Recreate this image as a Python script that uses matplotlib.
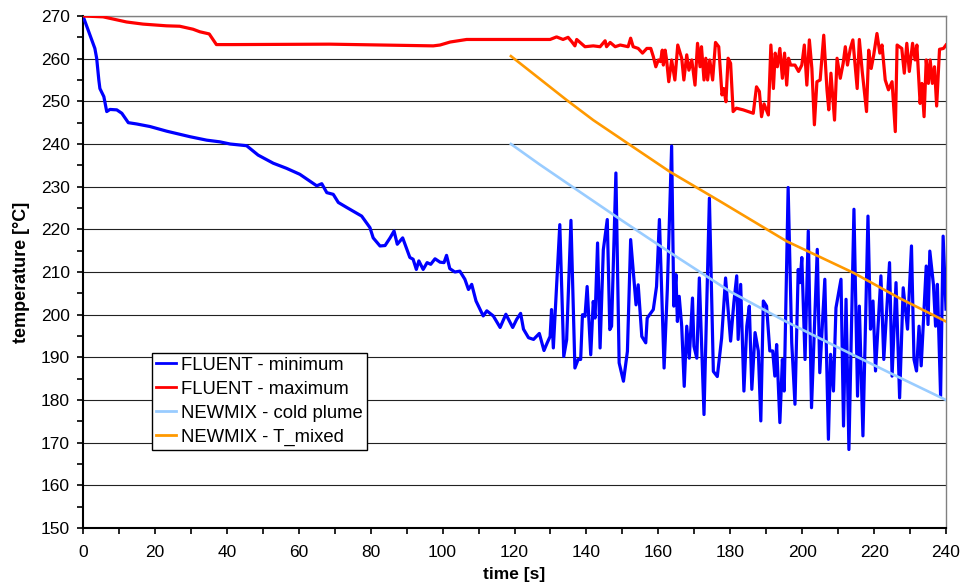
import matplotlib
matplotlib.use("Agg")
import matplotlib.pyplot as plt
from matplotlib.ticker import MultipleLocator

plt.rcParams['font.family'] = ['Liberation Sans', 'DejaVu Sans']

# FLUENT - minimum
t_min = [0, 3.3, 3.8, 4.4, 4.7, 5.8, 6.6, 7.5, 9.4, 10.8, 12.6, 14.9, 18.6, 23.3, 29.8, 34.4,
         38.1, 40.9, 45.5, 48.7, 52.9, 56.6, 60.3, 62.2, 65.0, 66.4, 67.8, 69.6, 71.0, 73.4,
         77.5, 79.8, 80.7, 82.6, 84.0, 85.4, 86.5, 87.4, 88.9, 90.9, 91.8, 92.7, 93.4, 94.6,
         95.7, 96.7, 97.9, 99.3, 100.4, 101.1, 102.0, 103.4, 104.8, 106.2, 107.2, 108.1, 109.3,
         111.3, 112.3, 114.1, 116.0, 117.6, 119.5, 120.6, 121.7, 122.5, 123.9, 125.3, 126.9,
         128.2, 129.1, 129.9, 130.3, 130.8, 131.5, 132.6, 133.7, 134.5, 135.7, 136.8, 137.7,
         138.4, 138.9, 139.6, 140.2, 141.2, 141.9, 142.4, 143.1, 143.8, 144.7, 145.8, 146.5,
         147.0, 148.2, 149.1, 150.3, 151.4, 152.3, 153.8, 154.4, 155.4, 156.5, 156.9, 158.6,
         159.5, 160.3, 161.6, 162.5, 163.7, 164.3, 164.9, 165.3, 165.8, 166.5, 167.2, 167.9,
         168.6, 169.5, 169.9, 170.7, 171.4, 172.7, 174.2, 175.3, 176.4, 177.6, 178.7, 180.1,
         181.0, 181.8, 182.2, 182.9, 183.8, 184.6, 185.3, 186.0, 186.9, 187.8, 188.5, 189.2,
         190.1, 191.0, 191.8, 192.4, 192.9, 193.8, 194.5, 195.0, 196.1, 197.1, 198.0, 198.9,
         199.4, 199.9, 200.8, 201.7, 202.6, 204.2, 204.9, 206.3, 207.3, 207.9, 208.7, 209.4,
         210.8, 211.5, 212.2, 213.0, 214.4, 215.4, 215.9, 216.9, 218.3, 219.0, 219.7, 220.4,
         221.9, 222.7, 224.3, 225.0, 226.1, 227.1, 228.1, 229.3, 230.4, 231.1, 231.8, 232.5,
         233.1, 234.5, 235.0, 235.5, 236.5, 237.1, 237.6, 238.5, 239.2, 240.0]
T_min = [270, 262.4, 260.1, 255, 253, 251.1, 247.6, 248.1, 248, 247.2, 245, 244.7, 244.1, 243.0,
         241.7, 240.9, 240.5, 240.0, 239.6, 237.4, 235.5, 234.3, 232.9, 231.8, 230.2, 230.7,
         228.6, 228.2, 226.3, 225.1, 223.1, 220.4, 218.0, 216.1, 216.2, 218.0, 219.6, 216.5,
         218.0, 213.4, 213.0, 210.6, 212.6, 210.6, 212.2, 211.8, 213.1, 212.3, 212.2, 213.9,
         210.8, 210.0, 210.2, 208.3, 205.9, 207.1, 203.2, 199.7, 200.9, 199.7, 197.0, 200.1,
         197.0, 198.9, 200.3, 196.6, 194.6, 194.2, 195.6, 191.6, 193.4, 194.9, 201.2, 192.2,
         203.5, 221.1, 190.2, 194.1, 222.1, 187.5, 189.5, 189.5, 200.0, 199.6, 206.6, 190.6,
         203.1, 199.2, 216.8, 192.2, 215.2, 222.3, 196.5, 197.3, 233.2, 188.7, 184.4, 191.4,
         217.6, 202.3, 207.0, 194.9, 193.4, 199.2, 201.2, 206.6, 222.3, 187.5, 205.9, 239.5,
         202.0, 209.4, 198.4, 204.3, 197.3, 183.2, 197.3, 189.8, 203.9, 192.6, 189.8, 208.6,
         176.6, 227.3, 186.7, 185.5, 194.5, 208.6, 193.8, 202.8, 209.1, 194.2, 207.1, 182.1,
         197.3, 202.0, 182.5, 195.8, 191.5, 175.1, 203.2, 202.0, 191.5, 191.5, 185.6, 193.0,
         174.7, 189.5, 182.1, 229.8, 193.4, 179.0, 210.6, 207.5, 213.4, 189.5, 219.6, 178.2,
         215.3, 186.4, 208.3, 170.8, 190.7, 182.1, 201.6, 208.3, 173.9, 203.6, 168.4, 224.7,
         180.9, 202.0, 171.6, 223.1, 196.6, 203.2, 186.8, 209.1, 189.5, 212.2, 185.6, 207.5,
         180.5, 206.3, 196.6, 216.1, 189.5, 186.8, 197.3, 188.0, 211.4, 197.7, 214.9, 207.1,
         197.3, 207.1, 180.9, 218.4, 201.3]

# FLUENT - maximum
t_max = [0, 5.6, 8.8, 12.1, 16.7, 23.2, 26.9, 30.6, 32.5, 35.1, 37.1, 41.7, 68.6, 97.4, 99.3,
         102.1, 106.7, 129.9, 131.7, 133.5, 134.9, 135.9, 136.8, 137.3, 139.6, 141.9, 143.8,
         145.2, 145.6, 146.6, 148.0, 149.4, 151.6, 152.3, 153.0, 154.4, 155.6, 156.8, 157.9,
         158.6, 159.3, 160.0, 160.6, 161.1, 161.4, 161.9, 162.3, 162.9, 163.7, 164.6, 165.4,
         166.5, 167.1, 167.9, 168.5, 169.3, 170.2, 170.9, 171.6, 172.0, 172.7, 173.2, 173.7,
         174.3, 175.1, 175.9, 176.8, 177.7, 178.2, 178.8, 179.4, 180.1, 180.8, 181.7, 183.6,
         186.4, 187.3, 188.1, 188.7, 189.4, 190.6, 191.3, 192.0, 192.5, 193.1, 193.8, 194.5,
         195.1, 195.7, 196.2, 196.8, 198.0, 199.0, 199.9, 200.6, 201.3, 202.0, 202.7, 203.4,
         204.1, 205.0, 206.0, 206.9, 207.4, 208.0, 209.0, 209.7, 210.6, 211.4, 212.0, 212.6,
         213.4, 214.1, 215.3, 215.9, 216.7, 217.9, 218.5, 219.2, 219.9, 220.8, 221.6, 222.2,
         223.1, 224.0, 225.0, 225.9, 226.4, 227.7, 228.4, 229.1, 229.8, 230.7, 231.4, 231.9,
         232.8, 233.3, 233.9, 234.5, 235.1, 235.6, 236.2, 236.8, 237.4, 238.2, 239.3, 240.0]
T_max = [270, 269.8, 269.2, 268.6, 268.1, 267.7, 267.6, 266.9, 266.3, 265.8, 263.3, 263.3, 263.4,
         263.0, 263.2, 263.9, 264.5, 264.5, 265.1, 264.5, 265.0, 264.0, 263.0, 264.5, 262.8,
         263.0, 262.8, 264.2, 262.8, 263.8, 262.8, 263.2, 262.8, 264.8, 262.8, 262.4, 261.3,
         262.4, 262.4, 260.5, 258.1, 259.7, 259.3, 262.0, 258.5, 262.0, 259.7, 254.6, 259.7,
         255.0, 263.2, 260.1, 255.0, 260.9, 257.3, 259.7, 253.8, 263.6, 258.1, 262.8, 255.0,
         260.1, 255.0, 259.7, 255.0, 263.8, 262.8, 251.5, 253.0, 249.9, 260.1, 258.9, 247.6,
         248.4, 248.0, 247.2, 253.4, 252.3, 246.4, 249.4, 246.8, 263.2, 253.0, 261.3, 258.1,
         262.4, 255.4, 261.3, 253.8, 260.1, 258.5, 258.5, 257.0, 258.5, 263.2, 253.8, 264.4,
         257.7, 244.5, 254.6, 255.0, 265.5, 252.7, 248.0, 256.6, 245.6, 260.1, 255.4, 258.9,
         262.8, 258.5, 262.4, 264.4, 253.0, 264.5, 257.0, 247.6, 262.0, 257.7, 260.9, 265.9,
         261.3, 263.2, 255.0, 252.7, 254.6, 242.9, 263.2, 262.4, 256.6, 263.6, 257.0, 263.6,
         259.7, 263.2, 249.5, 254.2, 246.4, 259.7, 254.2, 259.7, 254.2, 258.1, 248.9, 262.2,
         262.4, 263.2]

# NEWMIX - cold plume
t_cold = [119, 127, 135, 150, 165, 180, 195, 210, 225, 240]
T_cold = [240.0, 235.2, 230.6, 222.0, 213.6, 205.4, 198.6, 192.3, 186.1, 180.0]

# NEWMIX - T_mixed
t_mix = [119, 134.5, 141.9, 152.1, 163.2, 177.1, 195.7, 214.3, 227, 240]
T_mix = [260.6, 250.3, 245.6, 239.8, 233.5, 226.6, 217.2, 209.8, 203.9, 198.4]

labels = ["FLUENT - minimum", "FLUENT - maximum", "NEWMIX - cold plume", "NEWMIX - T_mixed"]
colors = ["#0000FF", "#FF0000", "#99CCFF", "#FF9900"]

fig = plt.figure(figsize=(9.66, 5.87), dpi=100)
ax = fig.add_axes([83/966, 1-528/587, (946-83)/966, (528-16)/587])

ax.plot(t_min, T_min, color=colors[0], lw=2.3, label=labels[0], zorder=3)
ax.plot(t_max, T_max, color=colors[1], lw=2.3, label=labels[1], zorder=3)
ax.plot(t_cold, T_cold, color=colors[2], lw=1.9, label=labels[2], zorder=4)
ax.plot(t_mix, T_mix, color=colors[3], lw=1.9, label=labels[3], zorder=4)

ax.set_xlim(0, 240)
ax.set_ylim(150, 270)
ax.xaxis.set_major_locator(MultipleLocator(20))
ax.xaxis.set_minor_locator(MultipleLocator(10))
ax.yaxis.set_major_locator(MultipleLocator(10))
ax.yaxis.set_minor_locator(MultipleLocator(5))
ax.grid(axis='y', which='major', color='#222222', lw=0.8, zorder=1)

for s in ['left', 'bottom']:
    ax.spines[s].set_color('black')
    ax.spines[s].set_linewidth(1.5)
for s in ['top', 'right']:
    ax.spines[s].set_color('#808080')
    ax.spines[s].set_linewidth(1.0)

ax.tick_params(which='both', direction='out', length=4.3, width=1.2, color='black',
               labelsize=12.5)
ax.tick_params(axis='x', which='both', pad=8)
ax.tick_params(axis='y', which='both', pad=5)

ax.set_xlabel("time [s]", fontsize=12.5, fontweight='bold', labelpad=5)
ax.set_ylabel("temperature [°C]", fontsize=13, fontweight='bold', labelpad=8)

leg = ax.legend(loc='lower left', bbox_to_anchor=(0.0796, 0.152), borderaxespad=0,
                fontsize=13.3, handlelength=1.1, handletextpad=0.25, labelspacing=0.38,
                borderpad=0.22, fancybox=False, framealpha=1, edgecolor='black')
leg.get_frame().set_linewidth(1.0)
for line in leg.get_lines():
    line.set_linewidth(2.0)

fig.savefig("out.png", dpi=100)
